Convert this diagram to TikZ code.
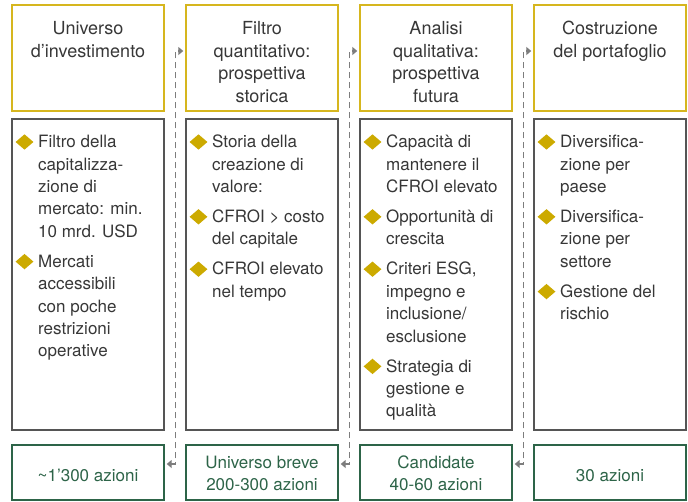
\documentclass[tikz,border=0pt]{standalone}
\usepackage{fontspec}
\setmainfont{TeX Gyre Heros}
\usetikzlibrary{arrows.meta,shapes.geometric}
\definecolor{gold}{RGB}{214,182,30}
\definecolor{goldfill}{RGB}{204,170,0}
\definecolor{midgrey}{RGB}{85,85,85}
\definecolor{darkgreen}{RGB}{45,100,72}
\definecolor{txtgrey}{RGB}{55,55,55}
\definecolor{conngrey}{RGB}{125,125,125}
\tikzset{
  x=1pt, y=-1pt,
  basefont/.style={font=\fontsize{17}{22.4}\selectfont},
  titlefont/.style={font=\fontsize{18}{22.5}\selectfont},
  topbox/.style={draw=gold, line width=1.4pt, minimum width=152pt, minimum height=106pt, inner sep=0pt},
  midbox/.style={draw=midgrey, line width=1.1pt, minimum width=152pt, minimum height=311pt, inner sep=0pt},
  botbox/.style={draw=darkgreen, line width=1.4pt, minimum width=152pt, minimum height=55pt, inner sep=0pt},
  titletext/.style={titlefont, text=txtgrey, align=center, anchor=north, inner sep=0pt},
  itemtext/.style={basefont, text=txtgrey, align=left, anchor=north west, inner sep=0pt},
  bottext/.style={basefont, text=darkgreen, align=center, inner sep=0pt},
  bul/.style={diamond, fill=goldfill, inner sep=0pt, minimum width=18pt, minimum height=15.5pt},
  conn/.style={draw=conngrey, line width=1.3pt, dash pattern=on 6pt off 4pt,
    {Triangle[length=5pt,width=8pt]}-{Triangle[length=5pt,width=8pt]}},
}
\begin{document}
\begin{tikzpicture}
\useasboundingbox (0,0) rectangle (688,501);
% boxes
\node[topbox] (tb1) at (88,58) {};
\node[topbox] (tb2) at (262,58) {};
\node[topbox] (tb3) at (436,58) {};
\node[topbox] (tb4) at (610,58) {};
\node[midbox] (mb1) at (88,274.5) {};
\node[midbox] (mb2) at (262,274.5) {};
\node[midbox] (mb3) at (436,274.5) {};
\node[midbox] (mb4) at (610,274.5) {};
\node[botbox] (bb1) at (88,472.5) {};
\node[botbox] (bb2) at (262,472.5) {};
\node[botbox] (bb3) at (436,472.5) {};
\node[botbox] (bb4) at (610,472.5) {};
% titles
\node[titletext] (t1) at (88,18.6) {\strut Universo\\d’investimento};
\node[titletext] (t2) at (262,18.6) {\strut Filtro\\quantitativo:\\prospettiva\\storica};
\node[titletext] (t3) at (436,18.6) {\strut Analisi\\qualitativa:\\prospettiva\\futura};
\node[titletext] (t4) at (610,18.6) {\strut Costruzione\\del portafoglio};
% column 1 items
\node[bul] (d11) at (24.5,142) {};
\node[itemtext] (i11) at (38,131.8) {\strut Filtro della\\capitalizza-\\zione di\\mercato: min.\\10 mrd. USD};
\node[bul] (d12) at (24.5,261.6) {};
\node[itemtext] (i12) at (38,251.4) {\strut Mercati\\accessibili\\con poche\\restrizioni\\operative};
% column 2 items
\node[bul] (d21) at (198.5,142) {};
\node[itemtext] (i21) at (212,131.8) {\strut Storia della\\creazione di\\valore:};
\node[bul] (d22) at (198.5,216.8) {};
\node[itemtext] (i22) at (212,206.6) {\strut CFROI > costo\\del capitale};
\node[bul] (d23) at (198.5,269.2) {};
\node[itemtext] (i23) at (212,259) {\strut CFROI elevato\\nel tempo};
% column 3 items
\node[bul] (d31) at (372.5,142) {};
\node[itemtext] (i31) at (386,131.8) {\strut Capacità di\\mantenere il\\CFROI elevato};
\node[bul] (d32) at (372.5,216.8) {};
\node[itemtext] (i32) at (386,206.6) {\strut Opportunità di\\crescita};
\node[bul] (d33) at (372.5,269.2) {};
\node[itemtext] (i33) at (386,259) {\strut Criteri ESG,\\impegno e\\inclusione/\\esclusione};
\node[bul] (d34) at (372.5,366.4) {};
\node[itemtext] (i34) at (386,356.2) {\strut Strategia di\\gestione e\\qualità};
% column 4 items
\node[bul] (d41) at (546.5,142) {};
\node[itemtext] (i41) at (560,131.8) {\strut Diversifica-\\zione per\\paese};
\node[bul] (d42) at (546.5,216.8) {};
\node[itemtext] (i42) at (560,206.6) {\strut Diversifica-\\zione per\\settore};
\node[bul] (d43) at (546.5,291.6) {};
\node[itemtext] (i43) at (560,281.4) {\strut Gestione del\\rischio};
% bottom texts
\node[bottext, anchor=base] (b1) at (88,481.5) {\char"7E 1’300 azioni};
\node[bottext, anchor=center] (b2) at (262,473.5) {Universo breve\\200-300 azioni};
\node[bottext, anchor=center] (b3) at (436,473.5) {Candidate\\40-60 azioni};
\node[bottext, anchor=base] (b4) at (610,481.5) {30 azioni};
% connectors
\draw[conn] ([xshift=2pt,yshift=8.5pt]bb1.east) -- ++(9,0) |- ([xshift=-2pt,yshift=7pt]tb2.west);
\draw[conn] ([xshift=2pt,yshift=8.5pt]bb2.east) -- ++(9,0) |- ([xshift=-2pt,yshift=7pt]tb3.west);
\draw[conn] ([xshift=2pt,yshift=8.5pt]bb3.east) -- ++(9,0) |- ([xshift=-2pt,yshift=7pt]tb4.west);
\end{tikzpicture}
\end{document}
